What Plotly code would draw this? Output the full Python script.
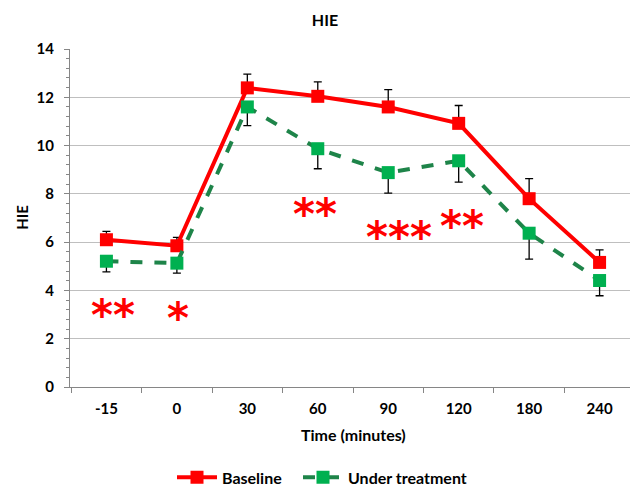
import plotly.graph_objects as go

time_labels = ["-15", "0", "30", "60", "90", "120", "180", "240"]
baseline = [6.1, 5.85, 12.39, 12.04, 11.6, 10.92, 7.8, 5.16]
baseline_err = [0.35, 0.35, 0.57, 0.6, 0.72, 0.74, 0.83, 0.52]
treatment = [5.21, 5.13, 11.6, 9.87, 8.88, 9.37, 6.37, 4.41]
treatment_err = [0.44, 0.41, 0.77, 0.83, 0.85, 0.88, 1.07, 0.63]
zeros = [0] * len(time_labels)

sig_labels = ["**", "*", "**", "***", "**"]
sig_x = [0.094, 1.02, 2.96, 4.15, 5.05]
sig_y = [3.2, 3.1, 7.38, 6.44, 6.9]

FONT = "Lato"
W, H = 638, 520
# page offset of the rendered figure (browser body margin)
OFF = 8
L, T, R, B = 70 - OFF, 49 - OFF, W - (636 - OFF), H - (387.5 - OFF)
PH = H - T - B
PW = W - L - R


def py(ref_px):
    """reference pixel row -> paper fraction"""
    return (387.5 - ref_px) / PH


def px(ref_px):
    """reference pixel column -> paper fraction"""
    return (ref_px - 70) / PW


fig = go.Figure()
fig.add_trace(go.Scatter(
    x=time_labels, y=baseline, name="Baseline", mode="lines+markers", legend="legend",
    line=dict(color="#FF0000", width=4),
    marker=dict(symbol="square", size=13, color="#FF0000"),
    error_y=dict(type="data", symmetric=False, array=baseline_err, arrayminus=zeros,
                 color="black", thickness=1.3, width=4),
))
fig.add_trace(go.Scatter(
    x=time_labels, y=treatment, name="Under treatment", mode="lines+markers", legend="legend2",
    line=dict(color="#1E8449", width=4, dash="dash"),
    marker=dict(symbol="square", size=13, color="#00B050"),
    error_y=dict(type="data", symmetric=False, array=zeros, arrayminus=treatment_err,
                 color="black", thickness=1.3, width=4),
))

annotations = []
for lab, sx, sy in zip(sig_labels, sig_x, sig_y):
    annotations.append(dict(
        x=sx, y=sy, xref="x", yref="y", text=lab, showarrow=False,
        font=dict(family="DejaVu Sans", size=42, color="#FF0000", weight="bold"),
        xanchor="center", yanchor="middle", yshift=-6,
    ))
annotations.append(dict(x=0.5, y=py(435), xref="paper", yref="paper", text="Time (minutes)",
                        showarrow=False, font=dict(family=FONT, size=16, color="black", weight="bold"),
                        xanchor="center", yanchor="middle"))
annotations.append(dict(x=px(22), y=py(218), xref="paper", yref="paper", text="HIE",
                        textangle=-90, showarrow=False,
                        font=dict(family=FONT, size=15, color="black", weight="bold"),
                        xanchor="center", yanchor="middle"))

legend_common = dict(orientation="h", xanchor="left", yanchor="middle", y=py(478),
                     font=dict(family=FONT, size=16, color="black", weight="bold"),
                     itemwidth=40, bgcolor="rgba(0,0,0,0)")

fig.update_layout(
    width=W, height=H,
    margin=dict(l=L, r=R, t=T, b=B),
    paper_bgcolor="white", plot_bgcolor="white",
    title=dict(text="HIE", x=(325 - OFF) / W, xanchor="center", y=1 - (20 - OFF) / H, yanchor="middle",
               font=dict(family=FONT, size=16, color="black", weight="bold")),
    font=dict(family=FONT, size=15, color="black", weight="bold"),
    showlegend=True,
    legend=dict(x=px(172), **legend_common),
    legend2=dict(x=px(298), **legend_common),
    annotations=annotations,
    xaxis=dict(type="category", showline=True, linecolor="#868686", linewidth=1,
               ticks="outside", tickson="boundaries", ticklen=5, tickcolor="#868686",
               showgrid=False, zeroline=False, automargin=False, ticklabelstandoff=8,
               tickfont=dict(family=FONT, size=15, color="black", weight="bold")),
    yaxis=dict(range=[0, 14], dtick=2, showline=True, linecolor="#868686", linewidth=1,
               ticks="outside", ticklen=5, tickcolor="#868686", automargin=False,
               ticklabelstandoff=7,
               showgrid=True, gridcolor="#BFBFBF", gridwidth=1, zeroline=False,
               minor=dict(dtick=0.4, ticks="outside", ticklen=3, tickcolor="#868686", showgrid=False),
               tickfont=dict(family=FONT, size=15, color="black", weight="bold")),
)

fig.write_html("out.html")
